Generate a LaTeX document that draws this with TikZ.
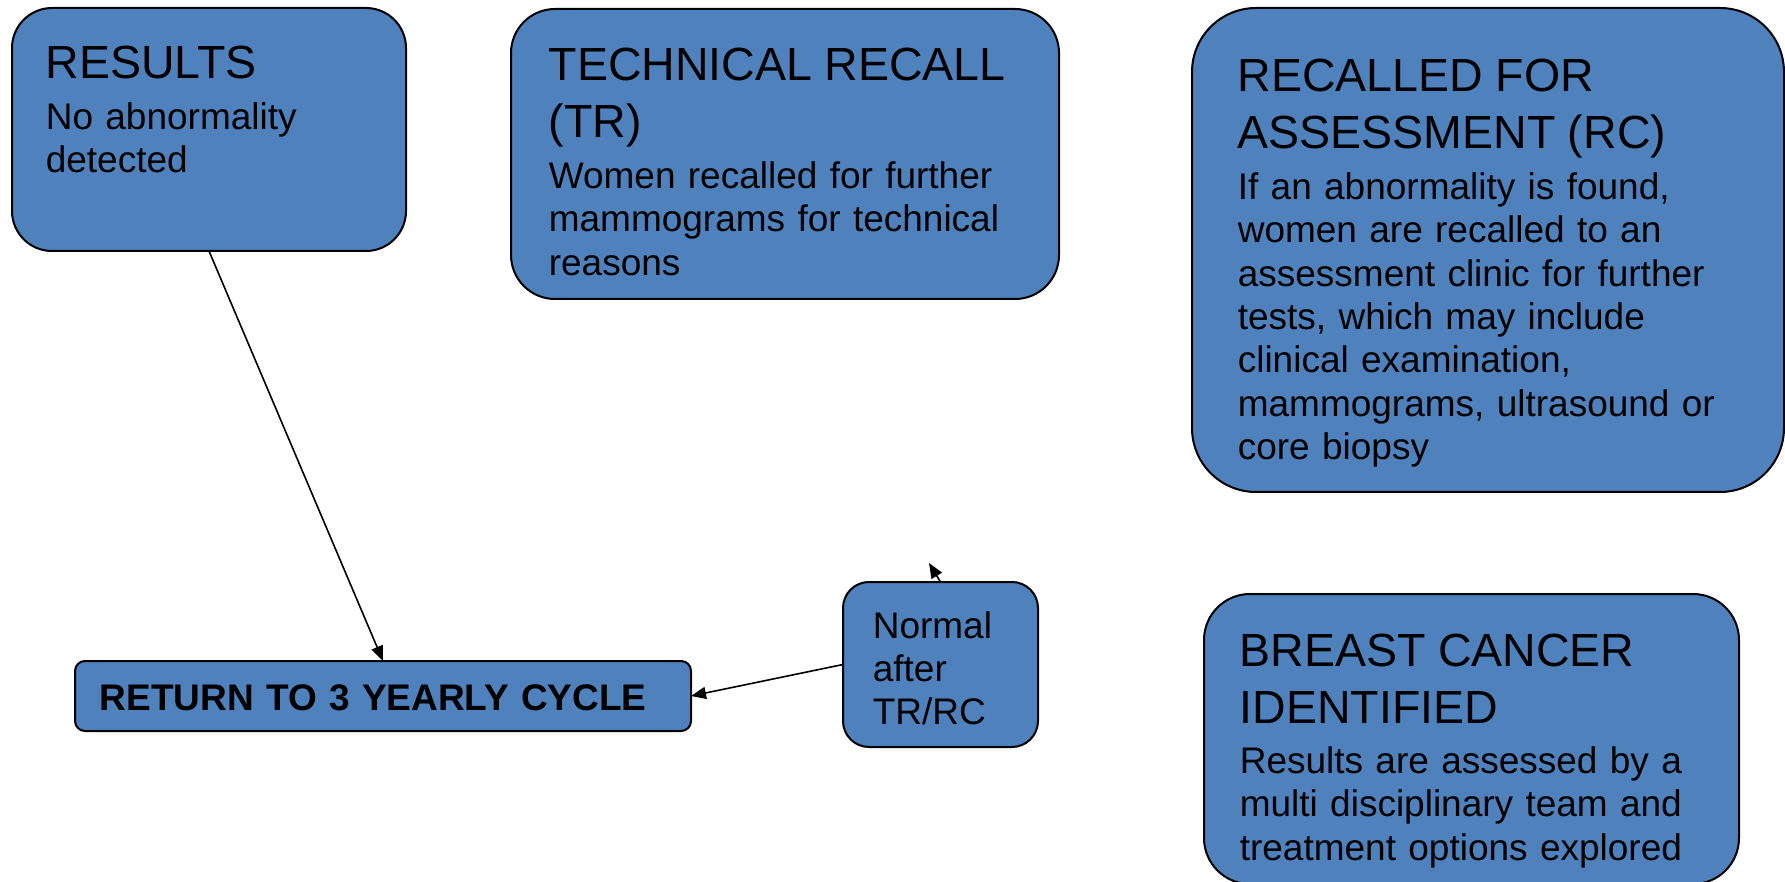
\documentclass[tikz,border=0pt]{standalone}
\usepackage{fontspec}
\setmainfont{Liberation Sans}
\usetikzlibrary{arrows.meta}

\definecolor{boxblue}{HTML}{4F81BD}
\newcommand{\ttl}{\fontsize{23.25}{28.5}\selectfont}
\newcommand{\bdy}{\fontsize{18.5}{21.7}\selectfont}

\tikzset{
  card/.style={draw, fill=boxblue, line width=1pt, inner sep=0pt, outer sep=0pt},
  txt/.style={anchor=base west, align=left, text width=260pt, inner sep=0pt, font=\bdy}
}

\begin{document}
\begin{tikzpicture}[x=0.5pt, y=-0.5pt, line width=0.8pt,
    >={Triangle[length=7.5pt,width=6pt]}]
\useasboundingbox (0,0) rectangle (1785,882);
\node (res) [card, rounded corners=20pt, minimum width=197pt, minimum height=121.5pt] at (209,129.5) {};
\node (tr)  [card, rounded corners=22pt, minimum width=274pt, minimum height=145pt] at (785,154) {};
\node (rc)  [card, rounded corners=32pt, minimum width=296pt, minimum height=242pt] at (1488,250) {};
\node (nm)  [card, rounded corners=13pt, minimum width=97.5pt, minimum height=82.5pt] at (940.5,664.5) {};
\node (ret) [card, rounded corners=5pt, minimum width=308pt, minimum height=35pt] at (383,696) {};
\node (bc)  [card, rounded corners=23pt, minimum width=267.5pt, minimum height=145pt] at (1471.5,739) {};

\node (rest) [txt] at (45,79) {{\ttl RESULTS\par}\vspace{3.5pt}No abnormality\\detected};
\node (trt)  [txt] at (548,81) {{\ttl TECHNICAL RECALL\\(TR)\par}\vspace{3.5pt}Women recalled for further\\mammograms for technical\\reasons};
\node (rct)  [txt] at (1237,92) {{\ttl RECALLED FOR\\ASSESSMENT (RC)\par}\vspace{3.5pt}If an abnormality is found,\\women are recalled to an\\assessment clinic for further\\tests, which may include\\clinical examination,\\mammograms, ultrasound or\\core biopsy};
\node (nmt)  [txt] at (872,638) {Normal\\after\\TR/RC};
\node (rett) [txt, text width=320pt, font=\bdy\bfseries] at (99,710) {RETURN TO 3 YEARLY CYCLE};
\node (bct)  [txt] at (1239,666) {{\ttl BREAST CANCER\\IDENTIFIED\par}\vspace{3.5pt}Results are assessed by a\\multi disciplinary team and\\treatment options explored};

\coordinate (up) at (929,563);
\draw[->] (res.south) -- (ret.north);
\draw[->] (nm.west) -- (ret.east);
\draw[->] (nm.north) -- (up);
\end{tikzpicture}
\end{document}
